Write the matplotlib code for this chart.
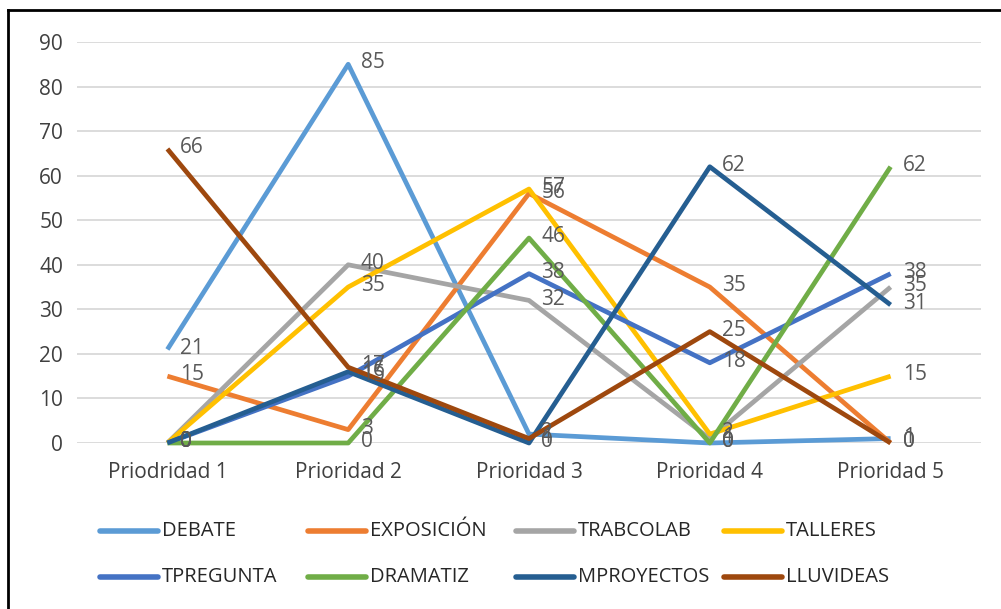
import numpy as np
import matplotlib.pyplot as plt
from matplotlib.lines import Line2D

categories = ['Priodridad 1', 'Prioridad 2', 'Prioridad 3', 'Prioridad 4', 'Prioridad 5']
series_names = ['DEBATE', 'EXPOSICIÓN', 'TRABCOLAB', 'TALLERES',
                'TPREGUNTA', 'DRAMATIZ', 'MPROYECTOS', 'LLUVIDEAS']
debate = [21, 85, 2, 0, 1]
exposicion = [15, 3, 56, 35, 0]
trabcolab = [0, 40, 32, 1, 35]
talleres = [0, 35, 57, 2, 15]
tpregunta = [0, 15, 38, 18, 38]
dramatiz = [0, 0, 46, 0, 62]
mproyectos = [0, 16, 0, 62, 31]
lluvideas = [66, 17, 1, 25, 0]
values = [debate, exposicion, trabcolab, talleres,
          tpregunta, dramatiz, mproyectos, lluvideas]
colors = ['#5B9BD5', '#ED7D31', '#A5A5A5', '#FFC000',
          '#4472C4', '#70AD47', '#255E91', '#9E480E']

plt.rcParams['font.family'] = ['Open Sans', 'DejaVu Sans']

W, H = 1001, 609
fig = plt.figure(figsize=(W/100, H/100), dpi=100)
ax = fig.add_axes([77/W, 1 - 443/H, (981-77)/W, (443-42)/H])

x = np.arange(len(categories))
for name, vals, c in zip(series_names, values, colors):
    ax.plot(x, vals, color=c, lw=3.4, solid_capstyle='butt', clip_on=False, zorder=3)
    for xi, v in zip(x, vals):
        ax.annotate(str(v), (xi, v), xytext=(9, 1), textcoords='offset points',
                    fontsize=15, color='#595959', va='center', ha='left', zorder=4)

ax.set_xlim(-0.5, 4.5)
ax.set_ylim(0, 90)
ax.set_yticks(range(0, 91, 10))
ax.set_xticks(x)
ax.set_xticklabels(categories)
ax.grid(axis='y', color='#D9D9D9', lw=1.3)
ax.set_axisbelow(True)
for s in ax.spines.values():
    s.set_visible(False)
ax.tick_params(length=0, labelsize=15, labelcolor='#404040')
ax.tick_params(axis='y', pad=10)
ax.tick_params(axis='x', pad=14)

# legend drawn by hand, Excel style fixed pitch, filled row by row
for i, (name, c) in enumerate(zip(series_names, colors)):
    col, row = i % 4, i // 4
    x0 = 100 + col * 208
    y0 = 1 - (531 + row * 46) / H
    fig.add_artist(Line2D([x0/W, (x0 + 58)/W], [y0, y0], color=c, lw=4,
                          solid_capstyle='round', transform=fig.transFigure))
    fig.text((x0 + 62)/W, y0, name, fontsize=14.5, color='#262626',
             va='center', ha='left')

# border of the chart box
fig.add_artist(Line2D([8/W, 8/W], [0, 1 - 10/H], color='black', lw=2,
                      transform=fig.transFigure))
fig.add_artist(Line2D([8/W, 1], [1 - 10/H, 1 - 10/H], color='black', lw=2,
                      transform=fig.transFigure))

fig.savefig('out.png', dpi=100)
